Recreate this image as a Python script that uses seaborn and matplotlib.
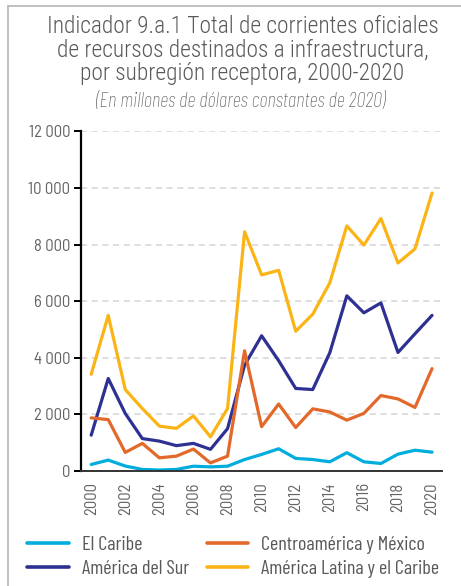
import matplotlib
matplotlib.use("Agg")
import matplotlib.pyplot as plt
from matplotlib.lines import Line2D
from matplotlib.ticker import FuncFormatter
import pandas as pd
import seaborn as sns

years = list(range(2000, 2021))

# values (millions of 2020 dollars)
caribe = [235, 390, 180, 60, 40, 60, 175, 150, 175, 410, 590, 790, 450, 410, 330, 650, 330, 270, 600, 740, 670]
sur = [1270, 3270, 2035, 1150, 1060, 900, 980, 770, 1500, 3740, 4780, 3900, 2920, 2880, 4180, 6190, 5590, 5940, 4190, 4850, 5500]
centro = [1880, 1820, 660, 980, 470, 530, 780, 290, 530, 4250, 1570, 2370, 1540, 2200, 2090, 1800, 2040, 2670, 2550, 2250, 3620]
alc = [3420, 5500, 2880, 2210, 1590, 1510, 1950, 1210, 2210, 8450, 6930, 7090, 4940, 5540, 6650, 8660, 7980, 8920, 7350, 7850, 9820]

series_names = ["El Caribe", "América del Sur", "Centroamérica y México", "América Latina y el Caribe"]
series_colors = ["#00ADDC", "#2E3192", "#E2692A", "#FBB416"]

df = pd.DataFrame({"Año": years, series_names[0]: caribe, series_names[1]: sur,
                   series_names[2]: centro, series_names[3]: alc})
long_df = df.melt(id_vars="Año", var_name="Subregión", value_name="Valor")

sns.set_style("white")
plt.rcParams['font.family'] = ['Barlow Semi Condensed', 'DejaVu Sans']
grey = "#58595B"

fig = plt.figure(figsize=(4.61, 5.86), dpi=100)
ax = fig.add_axes([0.176, 0.196, 0.783, 0.58])

sns.lineplot(data=long_df, x="Año", y="Valor", hue="Subregión", hue_order=series_names,
             palette=series_colors, linewidth=2.3, ax=ax, legend=False)

ax.set_xlim(1999.41, 2020.59)
ax.set_ylim(0, 12000)
ax.set_yticks(range(0, 12001, 2000))
ax.set_xticks(range(2000, 2021, 2))
ax.yaxis.set_major_formatter(FuncFormatter(lambda v, p: f"{int(v):,}".replace(",", "\u2009")))
ax.grid(axis="y", color="#d4d4d4", linestyle=(0, (4, 3)), linewidth=1.1)
ax.set_axisbelow(True)
for s in ["top", "right"]:
    ax.spines[s].set_visible(False)
ax.spines["left"].set_color("black")
ax.spines["left"].set_linewidth(1.6)
ax.spines["bottom"].set_color("#333333")
ax.spines["bottom"].set_linewidth(1.4)
ax.tick_params(axis="y", length=5, width=1.4, color="black", labelsize=12, labelcolor="#636466", pad=3, left=True)
ax.tick_params(axis="x", length=0, labelsize=12, labelcolor="#636466", pad=8, rotation=90)
ax.set_xlabel("")
ax.set_ylabel("")

# title block
fig.text(0.526, 0.974, "Indicador 9.a.1 Total de corrientes oficiales\n"
         "de recursos destinados a infraestructura,\npor subregión receptora, 2000-2020",
         ha="center", va="top", fontsize=16.8, color=grey,
         family=["Roboto Condensed", "Barlow Semi Condensed", "DejaVu Sans"],
         fontweight="light", linespacing=1.03)
fig.text(0.523, 0.827, "(En millones de dólares constantes de 2020)", ha="center", va="center",
         fontsize=15, color=grey, style="italic", fontweight="light",
         family=["Barlow Condensed", "DejaVu Sans"])

handles = [Line2D([], [], color=c, lw=2.6) for c in series_colors]
fig.legend(handles, series_names, ncol=2, loc="lower left", bbox_to_anchor=(0.02, -0.018),
           frameon=False, labelcolor=grey, handlelength=2.05, handletextpad=0.65,
           columnspacing=0.9, labelspacing=0.3,
           prop={"family": ["Barlow Condensed", "DejaVu Sans"], "size": 14.5})

# thin frame at top and left edge
fig.add_artist(Line2D([8 / 461, 8 / 461], [0, 1 - 6 / 586], color="#b5b5b5", lw=1.2))
fig.add_artist(Line2D([8 / 461, 1], [1 - 6 / 586, 1 - 6 / 586], color="#b5b5b5", lw=1.2))

fig.savefig("out.png", dpi=100)
